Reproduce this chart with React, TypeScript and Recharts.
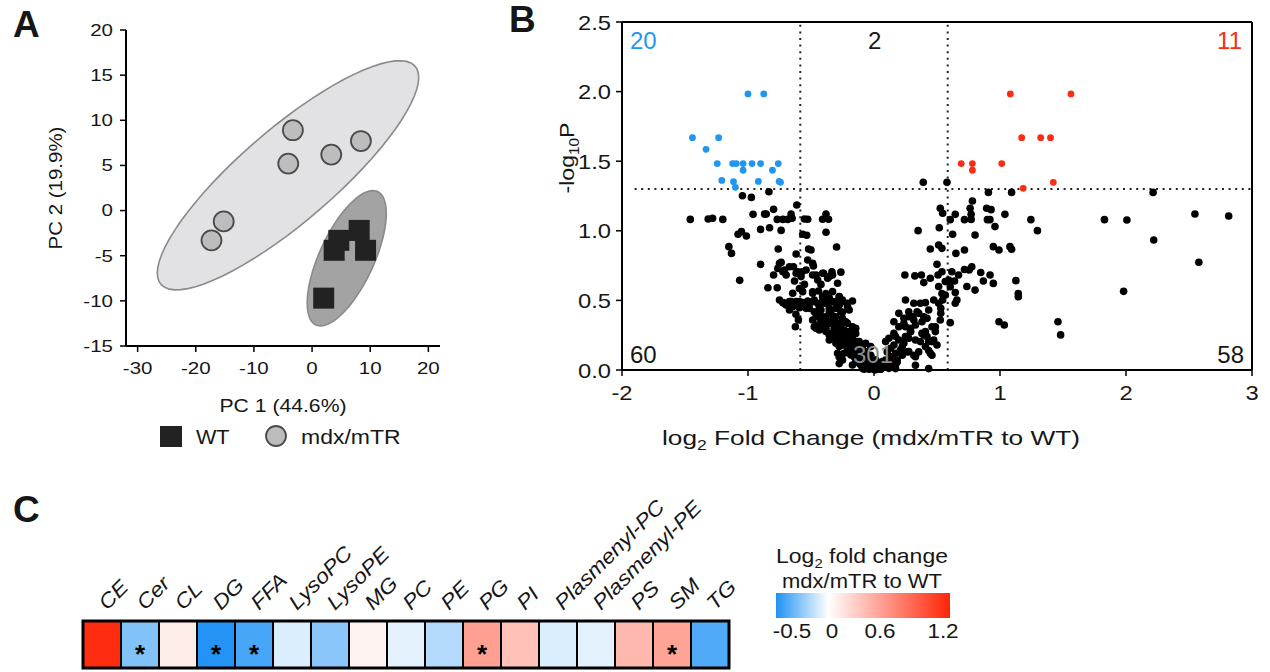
import React from 'react';
import {
  ScatterChart, Scatter, XAxis, YAxis, ReferenceLine,
  BarChart, Bar, Cell, LabelList,
} from 'recharts';

const FONT = '"Liberation Sans", Arial, Helvetica, sans-serif';
const INK = '#161616';

// ---------- Panel A: PCA scores ----------
const wtScores = [
  { x: 8.1, y: -2.2 }, { x: 4.6, y: -3.3 }, { x: 3.8, y: -4.4 },
  { x: 9.2, y: -4.4 }, { x: 2.0, y: -9.7 },
];
const mdxScores = [
  { x: -3.3, y: 8.9 }, { x: -4.1, y: 5.2 }, { x: 3.3, y: 6.2 },
  { x: 8.4, y: 7.7 }, { x: -15.2, y: -1.2 }, { x: -17.3, y: -3.3 },
];
const pcXTicks = [-30, -20, -10, 0, 10, 20];
const pcYTicks = [-15, -10, -5, 0, 5, 10, 15, 20];

// 95% ellipses: centre and two conjugate half-axes, in PC units
const mdxEllipse = { cx: -4.14, cy: 3.91, ux: 22.48, uy: 10.83, vx: 0, vy: 6.62 };
const wtEllipse = { cx: 5.96, cy: -5.28, ux: 6.8, uy: 4.96, vx: 0, vy: 5.62 };

function outline(e: typeof mdxEllipse) {
  const pts = [];
  for (let i = 0; i <= 72; i++) {
    const t = (i / 72) * Math.PI * 2;
    pts.push({ x: e.cx + e.ux * Math.cos(t) + e.vx * Math.sin(t), y: e.cy + e.uy * Math.cos(t) + e.vy * Math.sin(t) });
  }
  return pts;
}

// ---------- Panel B: volcano ----------
const sigDown: [number, number][] = [
  [-1.0, 1.983], [-0.875, 1.983], [-1.441, 1.669], [-1.233, 1.669], [-1.333, 1.585],
  [-1.244, 1.483], [-1.122, 1.483], [-1.093, 1.483], [-1.039, 1.483], [-0.968, 1.483],
  [-0.9, 1.483], [-0.76, 1.483], [-1.039, 1.435], [-0.806, 1.435], [-1.208, 1.362],
  [-1.115, 1.353], [-0.918, 1.355], [-0.753, 1.355], [-0.742, 1.348], [-1.1, 1.312],
];
const sigUp: [number, number][] = [
  [1.082, 1.983], [1.563, 1.983], [0.692, 1.483], [0.781, 1.483], [0.781, 1.435],
  [1.014, 1.483], [1.172, 1.669], [1.323, 1.669], [1.401, 1.669], [1.184, 1.305], [1.423, 1.348],
];
const nsAbove: [number, number][] = [[0.391, 1.348], [0.579, 1.348]];
const leftWing: [number, number][] = [
  [-0.834, 1.281], [-1.044, 1.252], [-0.973, 1.24], [-0.797, 1.154], [-0.96, 1.118], [-0.868, 1.12],
  [-0.855, 1.12], [-1.458, 1.082], [-1.316, 1.085], [-1.281, 1.09], [-1.2, 1.082], [-0.768, 1.082],
  [-0.723, 1.082], [-0.684, 1.082], [-0.9, 1.01], [-0.829, 1.022], [-0.737, 1.003], [-1.052, 0.994],
  [-1.079, 0.975], [-1.013, 0.963], [-1.152, 0.886], [-1.131, 0.838], [-0.76, 0.869], [-0.9, 0.759],
  [-0.737, 0.773], [-0.763, 0.73], [-0.723, 0.706], [-0.697, 0.683], [-0.797, 0.683], [-1.066, 0.644],
  [-0.842, 0.591], [-0.768, 0.591], [-0.723, 0.484], [-0.697, 0.467], [-0.613, 1.185], [-0.658, 1.12],
  [-0.65, 1.09], [-0.618, 0.833], [-0.639, 0.742], [-0.605, 0.706], [-0.631, 0.639], [-0.592, 0.586],
  [-0.658, 0.491], [-0.618, 0.491], [-0.645, 0.455], [-0.592, 0.448], [-0.624, 0.311], [-0.75, 0.766],
  [-0.71, 0.718], [-0.671, 0.742], [-0.618, 0.695], [-0.75, 0.503], [-0.71, 0.479], [-0.671, 0.491],
  [-0.631, 0.467], [-0.592, 0.491], [-0.671, 0.431], [-0.645, 0.551], [-0.6, 0.36], [-0.62, 0.4],
];
const centerCore: [number, number][] = [
  [-0.552, 1.085], [-0.526, 1.083], [-0.408, 1.083], [-0.381, 1.12], [-0.361, 1.083],
  [-0.566, 0.975], [-0.534, 0.968], [-0.381, 0.99], [-0.297, 0.884], [-0.519, 0.869], [-0.5, 0.862],
  [-0.526, 0.79], [-0.487, 0.766], [-0.481, 0.747], [-0.571, 0.706],
  [-0.4, 0.695], [-0.334, 0.706], [-0.263, 0.703], [-0.355, 0.671], [-0.46, 0.683],
  [-0.552, 0.615], [-0.421, 0.615], [-0.44, 0.567], [-0.487, 0.562], [-0.381, 0.55], [-0.276, 0.526], [-0.355, 0.514],
  [-0.566, 0.484], [-0.526, 0.496], [-0.487, 0.49], [-0.447, 0.48], [-0.408, 0.494], [-0.368, 0.484],
  [-0.329, 0.49], [-0.29, 0.48], [-0.25, 0.49], [-0.211, 0.48], [-0.171, 0.496],
  [-0.539, 0.443], [-0.474, 0.419], [-0.421, 0.431], [-0.355, 0.419], [-0.303, 0.443], [-0.25, 0.414], [-0.197, 0.431],
  [-0.46, 0.3], [-0.421, 0.319], [-0.381, 0.276], [-0.342, 0.336], [-0.303, 0.3], [-0.263, 0.323], [-0.224, 0.347],
  [-0.355, 0.252], [-0.316, 0.228], [-0.276, 0.264], [-0.237, 0.24], [-0.197, 0.276], [-0.145, 0.3], [-0.171, 0.228],
  [-0.29, 0.204], [-0.25, 0.18], [-0.211, 0.192], [-0.171, 0.168], [-0.132, 0.204], [-0.105, 0.18], [-0.066, 0.192], [-0.026, 0.168],
  [-0.276, 0.094], [-0.276, 0.046], [-0.184, 0.13], [-0.145, 0.094], [-0.105, 0.118], [-0.066, 0.082], [-0.026, 0.106], [0.013, 0.07],
  [-0.105, 0.036], [-0.066, 0.012], [-0.026, 0.024], [0, 0.003], [0.039, 0.017], [0.079, 0.031], [-0.039, 0.006],
  [0.013, 0.004], [0.053, 0.006], [-0.079, 0.005],
  [-0.474, 0.311], [-0.434, 0.287], [-0.395, 0.323], [-0.355, 0.335], [-0.316, 0.3], [-0.276, 0.311], [-0.237, 0.287],
  [-0.342, 0.263], [-0.289, 0.24], [-0.25, 0.216], [-0.21, 0.204], [-0.171, 0.18], [-0.197, 0.24], [-0.145, 0.263],
  [-0.118, 0.204], [-0.092, 0.168], [-0.066, 0.132], [-0.026, 0.096], [0.013, 0.072], [0.053, 0.048], [0.092, 0.072],
  [0.132, 0.096], [0.171, 0.12], [0.21, 0.144], [-0.118, 0.072], [-0.079, 0.036], [-0.039, 0.012], [0, 0.024],
  [0.039, 0.012], [0.079, 0.024], [0.118, 0.012], [-0.276, 0.168], [-0.237, 0.12], [-0.263, 0.072], [-0.118, 0.12], [-0.158, 0.096],
  [-0.579, 0.671], [-0.539, 0.718], [-0.487, 0.682], [-0.447, 0.647], [-0.408, 0.695], [-0.368, 0.659], [-0.329, 0.682], [-0.289, 0.623],
  [-0.552, 0.455], [-0.513, 0.479], [-0.474, 0.503], [-0.434, 0.455], [-0.395, 0.479], [-0.355, 0.515], [-0.316, 0.491], [-0.276, 0.527],
  [-0.46, 0.383], [-0.421, 0.359], [-0.381, 0.383], [-0.342, 0.407], [-0.302, 0.383], [-0.263, 0.419],
  [-0.566, 0.563], [-0.487, 0.551], [-0.408, 0.527], [-0.329, 0.563], [-0.25, 0.503], [-0.513, 0.443], [-0.434, 0.407],
  [-0.355, 0.443], [-0.276, 0.467], [-0.21, 0.455], [-0.487, 0.359], [-0.447, 0.323], [-0.408, 0.383], [-0.368, 0.347],
  [-0.329, 0.359], [-0.289, 0.335], [-0.25, 0.371], [-0.21, 0.335], [-0.171, 0.311], [-0.381, 0.3], [-0.316, 0.275],
  [-0.224, 0.263], [-0.171, 0.216], [-0.132, 0.168], [-0.355, 0.216], [-0.302, 0.192], [-0.21, 0.156], [-0.145, 0.132],
  [-0.105, 0.096], [-0.066, 0.072], [-0.184, 0.108], [-0.25, 0.072], [-0.289, 0.12],
  [-0.118, 0.048], [-0.066, 0.036], [-0.013, 0.06], [0.026, 0.036], [0.066, 0.06], [0.105, 0.036], [-0.026, 0.012],
  [0.013, 0.002], [0.053, 0.005], [-0.092, 0.012], [0.132, 0.06], [0.171, 0.036], [-0.145, 0.072], [-0.171, 0.036],
  [0.092, 0.204], [0.118, 0.228], [0.158, 0.18], [0.171, 0.24], [0.132, 0.156], [0.197, 0.216], [0.237, 0.192], [0.276, 0.228],
  [0.105, 0.13], [0.145, 0.094], [0.184, 0.058], [0.171, 0.01], [0.118, 0.07], [0.224, 0.106], [0.263, 0.13],
  [0.158, 0.347], [0.197, 0.407], [0.237, 0.371], [0.276, 0.419], [0.308, 0.383], [0.342, 0.419], [0.368, 0.479],
  [0.408, 0.484], [0.316, 0.479], [0.25, 0.503], [0.25, 0.311], [0.29, 0.3], [0.329, 0.323], [0.381, 0.347],
  [0.421, 0.371], [0.46, 0.311], [0.408, 0.276], [0.487, 0.276], [0.25, 0.228], [0.29, 0.276], [0.368, 0.204],
  [0.395, 0.252], [0.434, 0.204], [0.474, 0.216], [0.5, 0.18], [0.316, 0.106], [0.355, 0.13], [0.434, 0.14],
  [0.46, 0.106], [0.329, 0.034], [0.434, 0.01],
  [0.158, 0.263], [0.197, 0.311], [0.237, 0.335], [0.276, 0.383], [0.316, 0.359], [0.355, 0.407], [0.395, 0.383],
  [0.434, 0.431], [0.25, 0.24], [0.29, 0.275], [0.329, 0.216], [0.381, 0.263], [0.421, 0.24], [0.46, 0.204],
  [0.224, 0.168], [0.276, 0.132], [0.329, 0.096], [0.184, 0.072], [0.145, 0.048], [0.408, 0.168], [0.447, 0.12],
  [0.487, 0.311], [0.526, 0.359], [0.513, 0.479], [0.474, 0.503],
  [0.245, 0.683], [0.324, 0.676], [0.376, 0.683], [0.395, 0.628], [0.447, 0.659], [0.508, 0.683],
  [0.35, 1.001], [0.447, 0.869], [0.513, 0.898], [0.539, 0.874], [0.5, 0.759], [0.539, 0.706], [0.526, 1.162],
  [0.545, 1.126], [0.518, 1.022], [0.513, 0.6], [0.539, 0.55], [0.545, 0.503], [0.53, 0.443], [0.53, 0.407],
  [0.566, 0.635], [0.566, 0.539],
];
const rightWing: [number, number][] = [
  [0.908, 1.276], [1.092, 1.276], [0.781, 1.214], [0.763, 1.162], [0.771, 1.118], [0.771, 1.082], [0.645, 1.118],
  [0.894, 1.162], [0.929, 1.152], [0.605, 1.08], [0.718, 1.08], [0.9, 1.08], [0.92, 1.08], [0.96, 1.03],
  [1.039, 1.118], [1.245, 1.08], [1.297, 1.001], [1.829, 1.08], [0.624, 0.975], [0.802, 0.97], [0.947, 0.886],
  [0.992, 0.862], [1.079, 0.886], [1.092, 0.867], [0.718, 0.862], [0.65, 0.838], [0.618, 0.706], [0.671, 0.683],
  [0.639, 0.639], [0.592, 0.647], [0.718, 0.722], [0.776, 0.742], [0.755, 0.718], [0.847, 0.7], [0.921, 0.683],
  [0.868, 0.639], [0.947, 0.622], [0.737, 0.6], [0.802, 0.574], [1.126, 0.642], [1.145, 0.55], [1.145, 0.527],
  [0.645, 0.556], [0.658, 0.503], [0.645, 0.479], [0.605, 0.598], [0.605, 0.34], [0.992, 0.347], [1.034, 0.323],
  [1.46, 0.347], [1.481, 0.252], [2.007, 1.078], [2.215, 1.276], [2.22, 0.934], [2.547, 1.121], [2.815, 1.106],
  [2.578, 0.774], [1.981, 0.565],
];
const fcTicks = [-2, -1, 0, 1, 2, 3];
const pTicks = [0, 0.5, 1, 1.5, 2, 2.5];
const pCut = 1.301; // -log10(0.05)
const fcCut = 0.585; // log2(1.5)

// ---------- Panel C: class-level heat map ----------
const lipidClasses = ['CE', 'Cer', 'CL', 'DG', 'FFA', 'LysoPC', 'LysoPE', 'MG', 'PC', 'PE', 'PG', 'PI', 'Plasmenyl-PC', 'Plasmenyl-PE', 'PS', 'SM', 'TG'];
const classFC = [1.15, -0.28, 0.1, -0.49, -0.41, -0.08, -0.26, 0.065, -0.06, -0.17, 0.52, 0.34, -0.08, -0.06, 0.39, 0.5, -0.39];
const classSig = [false, true, false, true, true, false, false, false, false, false, true, false, false, false, false, true, false];
const scaleLabels = ['-0.5', '0', '0.6', '1.2'];

const NEG = [30, 146, 245];
const POS = [255, 36, 6];
function fcColor(v: number) {
  const c = v < 0 ? NEG : POS;
  const f = v < 0 ? Math.min(1, -v / 0.5) : Math.min(1, v / 1.2);
  const ch = c.map((k) => Math.round(255 + (k - 255) * f));
  return `rgb(${ch[0]},${ch[1]},${ch[2]})`;
}

const toPts = (a: [number, number][]) => a.map(([x, y]) => ({ x, y }));

function tick(fs: number, sx: number, axis: 'x' | 'y', fmt?: (v: number) => string) {
  return (p: any) => (
    <g transform={`translate(${p.x},${p.y})`}>
      <text
        transform={`scale(${sx},1)`}
        textAnchor={axis === 'x' ? 'middle' : 'end'}
        dy={axis === 'x' ? '0.71em' : '0.36em'}
        fontSize={fs}
        fontFamily={FONT}
        fill={INK}
      >
        {fmt ? fmt(p.payload.value) : p.payload.value}
      </text>
    </g>
  );
}

const dot = (color: string, r = 3.8) => (p: any) => <circle cx={p.cx} cy={p.cy} r={r} fill={color} />;

function T({ x, y, fs, sx = 1, anchor = 'start', rot = 0, children, ...rest }: any) {
  return (
    <text
      transform={`translate(${x},${y}) rotate(${rot}) scale(${sx},1)`}
      fontSize={fs}
      textAnchor={anchor}
      fontFamily={FONT}
      fill={INK}
      {...rest}
    >
      {children}
    </text>
  );
}

export default function App() {
  const heat = lipidClasses.map((name, i) => ({ name, fc: classFC[i], star: classSig[i] ? '*' : '', cell: 1 }));
  const axisStroke = { stroke: '#000', strokeWidth: 2 };

  return (
    <div style={{ position: 'absolute', left: 0, top: 0, width: 1270, height: 672, background: '#fff', fontFamily: FONT }}>
      {/* A */}
      <div style={{ position: 'absolute', left: 0, top: 0 }}>
        <ScatterChart width={460} height={380} margin={{ top: 30, right: 20, bottom: 0, left: 60 }}>
          <XAxis type="number" dataKey="x" domain={[-32, 22]} ticks={pcXTicks} height={34}
            axisLine={axisStroke} tickLine={{ stroke: '#000', strokeWidth: 1.5 }} tickSize={6} tickMargin={10}
            tick={tick(16.3, 1.26, 'x')} interval={0} allowDataOverflow />
          <YAxis type="number" dataKey="y" domain={[-15, 20]} ticks={pcYTicks} width={66}
            axisLine={axisStroke} tickLine={{ stroke: '#000', strokeWidth: 1.5 }} tickSize={6} tickMargin={7}
            tick={tick(16.3, 1.26, 'y')} interval={0} allowDataOverflow />
          <Scatter data={outline(mdxEllipse)} isAnimationActive={false} fill="none"
            line={{ fill: '#e2e2e4', stroke: '#8a8a8a', strokeWidth: 1.6 }} shape={() => <g />} />
          <Scatter data={outline(wtEllipse)} isAnimationActive={false} fill="none"
            line={{ fill: '#a3a3a3', stroke: '#8a8a8a', strokeWidth: 1.6 }} shape={() => <g />} />
          <Scatter data={mdxScores} isAnimationActive={false}
            shape={(p: any) => <circle cx={p.cx} cy={p.cy} r={10} fill="#bdbdbd" stroke="#4a4a4a" strokeWidth={1.8} />} />
          <Scatter data={wtScores} isAnimationActive={false}
            shape={(p: any) => <rect x={p.cx - 10.5} y={p.cy - 10.5} width={21} height={21} fill="#222" />} />
        </ScatterChart>
      </div>

      {/* B */}
      <div style={{ position: 'absolute', left: 520, top: 0 }}>
        <ScatterChart width={760} height={420} margin={{ top: 22, right: 28, bottom: 0, left: 42 }}>
          <XAxis type="number" dataKey="x" domain={[-2, 3]} ticks={fcTicks} height={50}
            axisLine={axisStroke} tickLine={{ stroke: '#000', strokeWidth: 1.5 }} tickSize={6} tickMargin={9}
            tick={tick(21, 1.13, 'x')} interval={0} />
          <YAxis type="number" dataKey="y" domain={[0, 2.5]} ticks={pTicks} width={60}
            axisLine={axisStroke} tickLine={{ stroke: '#000', strokeWidth: 1.5 }} tickSize={6} tickMargin={5}
            tick={tick(21, 1.13, 'y', (v) => v.toFixed(1))} interval={0} />
          <ReferenceLine y={2.5} stroke="#000" strokeWidth={2} />
          <ReferenceLine x={3} stroke="#000" strokeWidth={2} />
          <ReferenceLine segment={[{ x: -1.9, y: pCut }, { x: 3, y: pCut }]} stroke="#222" strokeWidth={2} strokeDasharray="2 4.6" />
          <ReferenceLine x={-fcCut} stroke="#222" strokeWidth={2} strokeDasharray="2 4.6" />
          <ReferenceLine x={fcCut} stroke="#222" strokeWidth={2} strokeDasharray="2 4.6" />
          <Scatter data={toPts(leftWing)} isAnimationActive={false} shape={dot('#000')} />
          <Scatter data={toPts(centerCore)} isAnimationActive={false} shape={dot('#000')} />
          <Scatter data={toPts(rightWing)} isAnimationActive={false} shape={dot('#000')} />
          <Scatter data={toPts(nsAbove)} isAnimationActive={false} shape={dot('#000')} />
          <Scatter data={toPts(sigDown)} isAnimationActive={false} shape={dot('#1f97ef', 3.4)} />
          <Scatter data={toPts(sigUp)} isAnimationActive={false} shape={dot('#fa2c12', 3.4)} />
        </ScatterChart>
      </div>

      {/* C */}
      <div style={{ position: 'absolute', left: 0, top: 470 }}>
        <BarChart width={760} height={200} data={heat} margin={{ top: 151, right: 31, bottom: 2, left: 83 }}
          barCategoryGap={0} barGap={0}>
          <XAxis dataKey="name" hide />
          <YAxis domain={[0, 1]} hide />
          <Bar dataKey="cell" isAnimationActive={false} stroke="#000" strokeWidth={2}>
            {heat.map((d, i) => <Cell key={i} fill={fcColor(d.fc)} />)}
            <LabelList dataKey="star" content={(p: any) => (
              <text x={p.x + p.width / 2} y={p.y + p.height / 2 + 18} textAnchor="middle" fontSize={26}
                fontWeight="bold" fontFamily={FONT} fill="#000">{p.value}</text>
            )} />
            <LabelList dataKey="name" content={(p: any) => (
              <text transform={`translate(${p.x + p.width / 2 + 5},${p.y - 10}) rotate(-45) scale(1.12,1)`}
                fontSize={20.5} fontStyle="italic" fontFamily={FONT} fill={INK}>{p.value}</text>
            )} />
          </Bar>
        </BarChart>
      </div>

      <svg width={1270} height={672} style={{ position: 'absolute', left: 0, top: 0, pointerEvents: 'none' }}>
        <defs>
          <linearGradient id="fcbar" x1="0" x2="1" y1="0" y2="0">
            <stop offset="0%" stopColor={fcColor(-0.5)} />
            <stop offset="30%" stopColor="#ffffff" />
            <stop offset="100%" stopColor={fcColor(1.2)} />
          </linearGradient>
        </defs>
        {/* panel letters */}
        <T x={13} y={37} fs={37} fontWeight="bold">A</T>
        <T x={509} y={32} fs={37} fontWeight="bold">B</T>
        <T x={13} y={522} fs={37} fontWeight="bold">C</T>

        {/* A titles and legend */}
        <T x={283} y={412} fs={17.5} sx={1.21} anchor="middle">PC 1 (44.6%)</T>
        <T x={62} y={188} fs={17.5} sx={1.17} anchor="middle" rot={-90}>PC 2 (19.9%)</T>
        <rect x={160} y={426} width={22} height={21} fill="#222" />
        <T x={196} y={444} fs={20} sx={1.08}>WT</T>
        <circle cx={276} cy={436} r={10} fill="#bdbdbd" stroke="#4a4a4a" strokeWidth={1.8} />
        <T x={301} y={444} fs={20} sx={1.15}>mdx/mTR</T>

        {/* B titles and counts */}
        <T x={574} y={158} fs={21} sx={1.1} anchor="middle" rot={-90}>
          -log<tspan fontSize={14} dy={5}>10</tspan><tspan dy={-5}>P</tspan>
        </T>
        <T x={871} y={445} fs={21} sx={1.25} anchor="middle">
          log<tspan fontSize={14} dy={5}>2</tspan><tspan dy={-5}> Fold Change (mdx/mTR to WT)</tspan>
        </T>
        <T x={630} y={49} fs={24} fill="#1f97ef">20</T>
        <T x={868} y={49} fs={24}>2</T>
        <T x={1242} y={49} fs={24} anchor="end" fill="#fa2c12">11</T>
        <T x={630} y={363} fs={24}>60</T>
        <T x={1244} y={363} fs={24} anchor="end">58</T>
        <T x={873} y={363} fs={24} anchor="middle" fill="#8c8c8c">301</T>

        {/* C frame and colour scale */}
        <rect x={83} y={621} width={646} height={47} fill="none" stroke="#000" strokeWidth={3} />
        <T x={862} y={563} fs={20} sx={1.15} anchor="middle">
          Log<tspan fontSize={13} dy={5}>2</tspan><tspan dy={-5}> fold change</tspan>
        </T>
        <T x={862} y={588} fs={20} sx={1.1} anchor="middle">mdx/mTR to WT</T>
        <rect x={776} y={593} width={174} height={25} fill="url(#fcbar)" />
        <T x={792} y={638} fs={19.5} sx={1.15} anchor="middle">{scaleLabels[0]}</T>
        <T x={832} y={638} fs={19.5} sx={1.15} anchor="middle">{scaleLabels[1]}</T>
        <T x={880} y={638} fs={19.5} sx={1.15} anchor="middle">{scaleLabels[2]}</T>
        <T x={943} y={638} fs={19.5} sx={1.15} anchor="middle">{scaleLabels[3]}</T>
      </svg>
    </div>
  );
}
